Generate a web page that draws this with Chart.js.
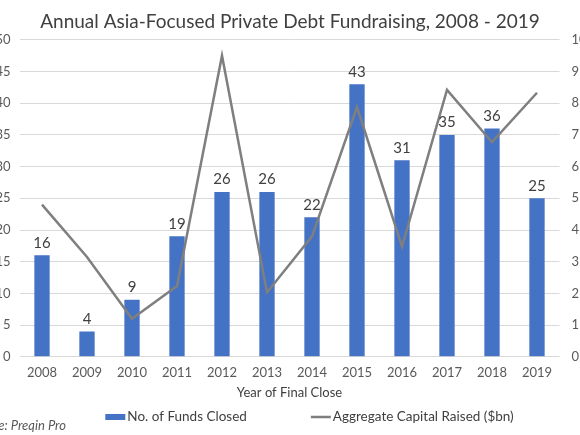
<!DOCTYPE html>
<html>
<head>
<meta charset="utf-8">
<script src="https://cdn.jsdelivr.net/npm/chart.js@4"></script>
<style>
  html, body { margin: 0; padding: 0; width: 580px; height: 435px; overflow: hidden; background: #fff; }
  .chart-wrap { position: absolute; left: -20px; top: 0; width: 620px; height: 435px; }
  .source { position: absolute; left: -32px; top: 417px; font: italic 13px Lato, sans-serif; color: #595959; }
</style>
</head>
<body>
<div class="chart-wrap"><canvas id="myChart"></canvas></div>
<div class="source">Source: Preqin Pro</div>
<script>
var years = ["2008", "2009", "2010", "2011", "2012", "2013", "2014", "2015", "2016", "2017", "2018", "2019"];
var fundsClosed = [16, 4, 9, 19, 26, 26, 22, 43, 31, 35, 36, 25];
var capitalRaised = [4.8, 3.15, 1.2, 2.23, 9.5, 2.03, 3.8, 7.88, 3.48, 8.42, 6.77, 8.33];
var leftTicks = [0, 5, 10, 15, 20, 25, 30, 35, 40, 45, 50];
var rightTicks = [0, 1, 2, 3, 4, 5, 6, 7, 8, 9, 10];

var font = 'Lato, sans-serif';
var barColor = '#4472c4';
var lineColor = '#7f7f7f';

// numbers above the bars
var barLabels = {
  id: 'barLabels',
  afterDatasetsDraw: function(chart) {
    var ctx = chart.ctx;
    var meta = chart.getDatasetMeta(1);
    ctx.save();
    ctx.font = '15px ' + font;
    ctx.fillStyle = '#404040';
    ctx.textAlign = 'center';
    ctx.textBaseline = 'bottom';
    meta.data.forEach(function(bar, i) {
      ctx.fillText(fundsClosed[i], bar.x, bar.y - 5);
    });
    ctx.restore();
  }
};

// legend under the axis title, spaced like the original
var bottomLegend = {
  id: 'bottomLegend',
  afterDraw: function(chart) {
    var ctx = chart.ctx;
    var area = chart.chartArea;
    var items = [
      { text: chart.data.datasets[1].label, kind: 'rect' },
      { text: chart.data.datasets[0].label, kind: 'line' }
    ];
    var boxW = 20, gap = 2, itemGap = 64;
    ctx.save();
    ctx.font = '13.5px ' + font;
    ctx.textBaseline = 'middle';
    var total = 0;
    items.forEach(function(it, i) {
      it.w = boxW + gap + ctx.measureText(it.text).width;
      total += it.w + (i ? itemGap : 0);
    });
    var x = (area.left + area.right) / 2 + 20 - total / 2;
    var y = chart.height - 18;
    items.forEach(function(it) {
      if (it.kind === 'rect') {
        ctx.fillStyle = barColor;
        ctx.fillRect(x, y - 3, boxW, 6);
      } else {
        ctx.strokeStyle = lineColor;
        ctx.lineWidth = 2.5;
        ctx.beginPath();
        ctx.moveTo(x, y);
        ctx.lineTo(x + boxW, y);
        ctx.stroke();
      }
      ctx.fillStyle = '#404040';
      ctx.fillText(it.text, x + boxW + gap, y);
      x += it.w + itemGap;
    });
    ctx.restore();
  }
};

var ctx = document.getElementById('myChart').getContext('2d');
var chart = new Chart(ctx, {
  data: {
    labels: years,
    datasets: [{
      type: 'line',
      label: 'Aggregate Capital Raised ($bn)',
      data: capitalRaised,
      yAxisID: 'y1',
      borderColor: lineColor,
      borderWidth: 2.5,
      pointRadius: 0,
      tension: 0,
      order: 0
    }, {
      type: 'bar',
      label: 'No. of Funds Closed',
      data: fundsClosed,
      yAxisID: 'y',
      backgroundColor: barColor,
      categoryPercentage: 1,
      barPercentage: 0.34,
      order: 1
    }]
  },
  options: {
    responsive: true,
    maintainAspectRatio: false,
    animation: false,
    layout: { padding: { left: 0, right: 0, top: 0, bottom: 26 } },
    plugins: {
      title: {
        display: true,
        text: 'Annual Asia-Focused Private Debt Fundraising, 2008 - 2019',
        color: '#404040',
        font: { family: font, size: 19, weight: 'normal' },
        padding: { top: 10, bottom: 7 }
      },
      legend: { display: false },
      tooltip: { enabled: false }
    },
    scales: {
      x: {
        grid: { display: false },
        border: { display: false },
        ticks: { color: '#595959', font: { family: font, size: 13 }, padding: 0 },
        title: {
          display: true,
          text: 'Year of Final Close',
          color: '#404040',
          font: { family: font, size: 13 },
          padding: { top: 5, bottom: 8 }
        }
      },
      y: {
        position: 'left',
        min: 0,
        max: 50,
        afterBuildTicks: function(scale) {
          scale.ticks = leftTicks.map(function(v) { return { value: v }; });
        },
        afterFit: function(scale) { scale.width = 39.5; },
        grid: { color: '#d9d9d9', lineWidth: 1, drawTicks: false },
        border: { display: false },
        ticks: { color: '#595959', font: { family: font, size: 13 }, padding: 9 }
      },
      y1: {
        position: 'right',
        min: 0,
        max: 10,
        afterBuildTicks: function(scale) {
          scale.ticks = rightTicks.map(function(v) { return { value: v }; });
        },
        afterFit: function(scale) { scale.width = 40.5; },
        grid: { display: false, drawTicks: false },
        border: { display: false },
        ticks: { color: '#595959', font: { family: font, size: 13 }, padding: 12 }
      }
    }
  },
  plugins: [barLabels, bottomLegend]
});
</script>
</body>
</html>
